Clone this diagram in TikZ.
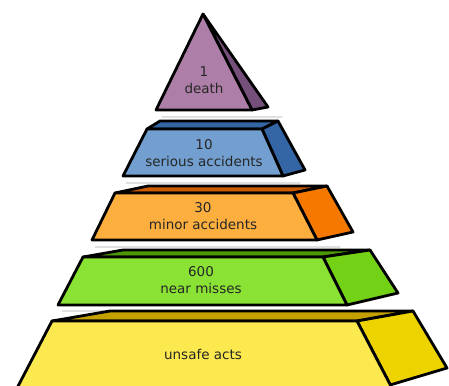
\documentclass[tikz,border=0pt]{standalone}
\usepackage{fontspec}
\setmainfont{DejaVu Sans}
\definecolor{plumfront}{HTML}{AD7FA8}
\definecolor{plumside}{HTML}{75507B}
\definecolor{bluefront}{HTML}{729FCF}
\definecolor{blueside}{HTML}{3465A4}
\definecolor{orangefront}{HTML}{FCAF3E}
\definecolor{orangeside}{HTML}{F57900}
\definecolor{orangetop}{HTML}{CE5C00}
\definecolor{greenfront}{HTML}{8AE234}
\definecolor{greenside}{HTML}{73D216}
\definecolor{greentop}{HTML}{4E9A06}
\definecolor{yellowfront}{HTML}{FCE94F}
\definecolor{yellowside}{HTML}{EDD400}
\definecolor{yellowtop}{HTML}{C4A000}
\begin{document}
\begin{tikzpicture}[x=1pt, y=-1pt, line join=round, line cap=round,
	face/.style={draw=black, line width=2.8pt},
	shadow/.style={draw=black!12, line width=1.2pt},
	label/.style={align=center, font=\fontsize{13.5}{17}\selectfont, text=black!85}]
	\useasboundingbox (0,0) rectangle (449,385);
	\clip (0,0) rectangle (449,385);
	% death
	\draw[shadow] (162,117)--(282,117);
	\draw[face, fill=plumside] (203,14)--(268,107)--(252,110)--cycle;
	\draw[face, fill=plumfront] (203,14)--(252,110)--(156,110)--cycle;
	\node[label] (death) at (204,80) {1\\death};
	% serious accidents
	\draw[shadow] (126,183)--(300,183);
	\draw[face, fill=blueside] (147,129)--(160,121)--(278,121)--(262,129)--cycle;
	\draw[face, fill=blueside] (262,129)--(278,121)--(305,170)--(283,176)--cycle;
	\draw[face, fill=bluefront] (147,129)--(262,129)--(283,176)--(123,176)--cycle;
	\node[label] (serious) at (204,153) {10\\serious accidents};
	% minor accidents
	\draw[shadow] (95,247)--(340,247);
	\draw[face, fill=orangetop] (115,193)--(148,186)--(327,186)--(293,193)--cycle;
	\draw[face, fill=orangeside] (293,193)--(327,186)--(353,232)--(317,240)--cycle;
	\draw[face, fill=orangefront] (115,193)--(293,193)--(317,240)--(92,240)--cycle;
	\node[label] (minor) at (203,216) {30\\minor accidents};
	% near misses
	\draw[shadow] (62,311)--(390,311);
	\draw[face, fill=greentop] (83,257)--(123,250)--(370,250)--(323,257)--cycle;
	\draw[face, fill=greenside] (323,257)--(370,250)--(398,293)--(347,305)--cycle;
	\draw[face, fill=greenfront] (83,257)--(323,257)--(347,305)--(58,305)--cycle;
	\node[label] (near) at (201,280) {600\\near misses};
	% unsafe acts
	\draw[face, fill=yellowtop] (52,321)--(110,311)--(413,311)--(357,321)--cycle;
	\draw[face, fill=yellowside] (357,321)--(413,311)--(447,368)--(390,385)--(394,392)--cycle;
	\draw[face, fill=yellowfront] (52,321)--(357,321)--(394,392)--(15,392)--cycle;
	\node[label] (unsafe) at (203,354) {unsafe acts};
\end{tikzpicture}
\end{document}
